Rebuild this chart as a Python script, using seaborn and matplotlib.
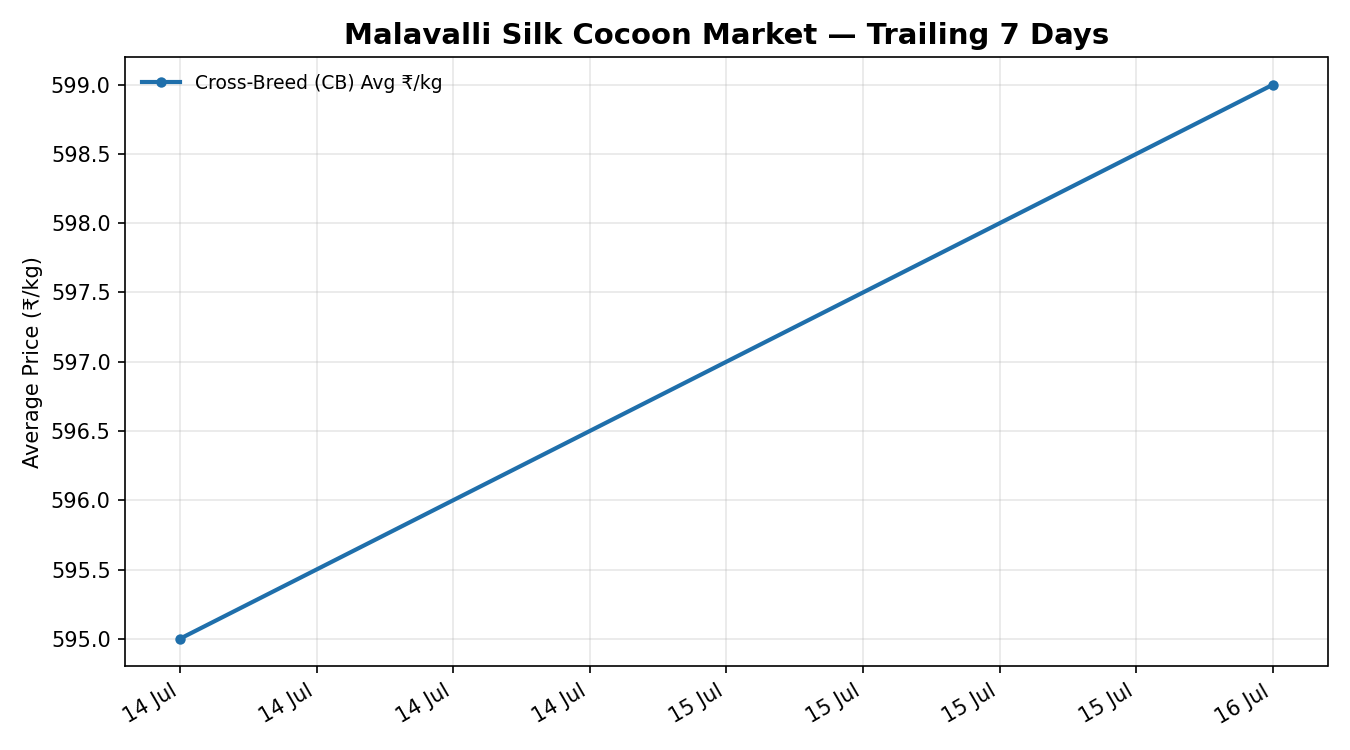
import matplotlib
matplotlib.use("Agg")
import matplotlib.pyplot as plt
import matplotlib.dates as mdates
import seaborn as sns
import pandas as pd

dates = ["2024-07-14", "2024-07-16"]
prices = [595.0, 599.0]
series_label = "Cross-Breed (CB) Avg ₹/kg"

plt.rcParams["font.family"] = ["DejaVu Sans"]

df = pd.DataFrame({"date": pd.to_datetime(dates), "price": prices})

fig, ax = plt.subplots(figsize=(9, 5), dpi=150)
sns.lineplot(data=df, x="date", y="price", ax=ax, marker="o", color="#1f6fab",
             linewidth=2, markersize=5, markeredgewidth=0, label=series_label)

ax.set_title("Malavalli Silk Cocoon Market — Trailing 7 Days", fontsize=14, fontweight="bold")
ax.set_xlabel("")
ax.set_ylabel("Average Price (₹/kg)", fontsize=10)
ax.grid(True, alpha=0.3)
ax.xaxis.set_major_locator(mdates.HourLocator(byhour=[0, 6, 12, 18]))
ax.xaxis.set_major_formatter(mdates.DateFormatter("%d %b"))
ax.tick_params(labelsize=10)
ax.legend(loc="upper left", frameon=False, fontsize=9)
fig.autofmt_xdate()
fig.tight_layout()
fig.savefig("out.png", dpi=150)
